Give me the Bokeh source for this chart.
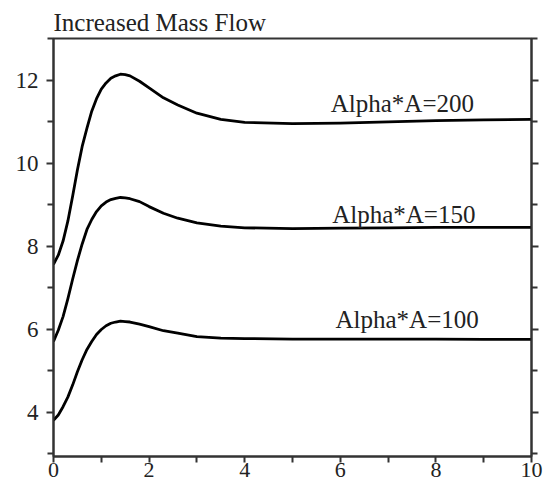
from bokeh.plotting import figure
from bokeh.models import ColumnDataSource, LinearAxis, FixedTicker, Range1d, CustomJSTickFormatter
from bokeh.core.properties import value
from bokeh.embed import file_html
from bokeh.resources import INLINE

# ---- data ----
t = [0.0, 0.1, 0.2, 0.3, 0.4, 0.5, 0.6, 0.7, 0.8, 0.9, 1.0, 1.1, 1.2, 1.3, 1.4, 1.5,
     1.6, 1.8, 2.0, 2.3, 2.6, 3.0, 3.5, 4.0, 5.0, 6.0, 7.0, 8.0, 9.0, 10.0]

flow_200 = [7.56, 7.78, 8.12, 8.6, 9.2, 9.83, 10.4, 10.84, 11.25, 11.55, 11.78, 11.93,
            12.04, 12.1, 12.14, 12.13, 12.1, 11.97, 11.81, 11.57, 11.4, 11.2, 11.05,
            10.98, 10.95, 10.96, 10.99, 11.02, 11.04, 11.05]
flow_150 = [5.7, 5.97, 6.3, 6.73, 7.2, 7.65, 8.05, 8.4, 8.64, 8.83, 8.97, 9.06,
            9.12, 9.15, 9.17, 9.16, 9.14, 9.07, 8.95, 8.79, 8.67, 8.56, 8.48,
            8.44, 8.42, 8.43, 8.44, 8.45, 8.45, 8.45]
flow_100 = [3.8, 3.93, 4.13, 4.36, 4.65, 4.97, 5.26, 5.51, 5.7, 5.87, 5.99, 6.08,
            6.14, 6.17, 6.19, 6.18, 6.17, 6.12, 6.06, 5.96, 5.9, 5.82, 5.78,
            5.77, 5.76, 5.76, 5.76, 5.76, 5.75, 5.75]

label_text = ["Alpha*A=200", "Alpha*A=150", "Alpha*A=100"]
label_x = [5.8, 5.83, 5.9]
label_y = [11.29, 8.61, 6.08]

x_major = [0, 2, 4, 6, 8, 10]
x_minor = [1, 3, 5, 7, 9]
y_major = [4, 6, 8, 10, 12]
y_minor = [3, 5, 7, 9, 11, 13]

title_text = "Increased Mass Flow"

# ---- figure ----
SERIF = "Liberation Serif"
AX = "#333333"

p = figure(width=544, height=486, output_backend="svg", toolbar_location=None,
           x_range=Range1d(0, 10), y_range=Range1d(2.93, 13.0),
           min_border_left=53, min_border_right=13, min_border_top=38,
           min_border_bottom=30)

p.title.text = title_text
p.title.text_font = SERIF
p.title.text_font_size = "25px"
p.title.text_font_style = "normal"
p.title.text_color = "#222222"
p.title.align = "left"
p.title.standoff = 6

p.xgrid.visible = False
p.ygrid.visible = False
p.outline_line_color = AX
p.outline_line_width = 2
p.outline_line_alpha = 1.0
p.background_fill_color = "white"
p.border_fill_color = "white"

xt = FixedTicker(ticks=x_major, minor_ticks=x_minor)
yt = FixedTicker(ticks=y_major, minor_ticks=y_minor)

right = LinearAxis(ticker=yt, formatter=CustomJSTickFormatter(code="return ''"),
                   major_label_standoff=0)
p.add_layout(right, "right")

for ax in list(p.xaxis) + list(p.yaxis) + [right]:
    ax.axis_line_color = AX
    ax.axis_line_width = 2
    ax.major_tick_line_color = AX
    ax.minor_tick_line_color = AX
    ax.major_tick_line_width = 2
    ax.minor_tick_line_width = 2
    ax.major_tick_in = 0
    ax.minor_tick_in = 0
    ax.major_tick_out = 7
    ax.minor_tick_out = 6
    ax.major_label_text_font = SERIF
    ax.major_label_text_color = "#222222"

for ax in p.xaxis:
    ax.ticker = xt
    ax.major_label_standoff = 0
    ax.major_tick_out = 6
    ax.major_label_text_font_size = "22px"
for ax in p.yaxis:
    ax.ticker = yt
    ax.major_label_standoff = 8
    ax.major_label_text_font_size = "23px"

for series in (flow_200, flow_150, flow_100):
    p.line(t, series, line_color="black", line_width=2.8, line_join="round")

# labels: baseline drawn slightly higher to compensate the SVG text baseline
src = ColumnDataSource(dict(x=label_x, y=[v + 0.15 for v in label_y], text=label_text))
p.text(x="x", y="y", text="text", source=src, text_font=value(SERIF),
       text_font_size="25px", text_color="#222222", text_baseline="alphabetic",
       text_align="left")

open("out.html", "w").write(file_html(p, INLINE))
